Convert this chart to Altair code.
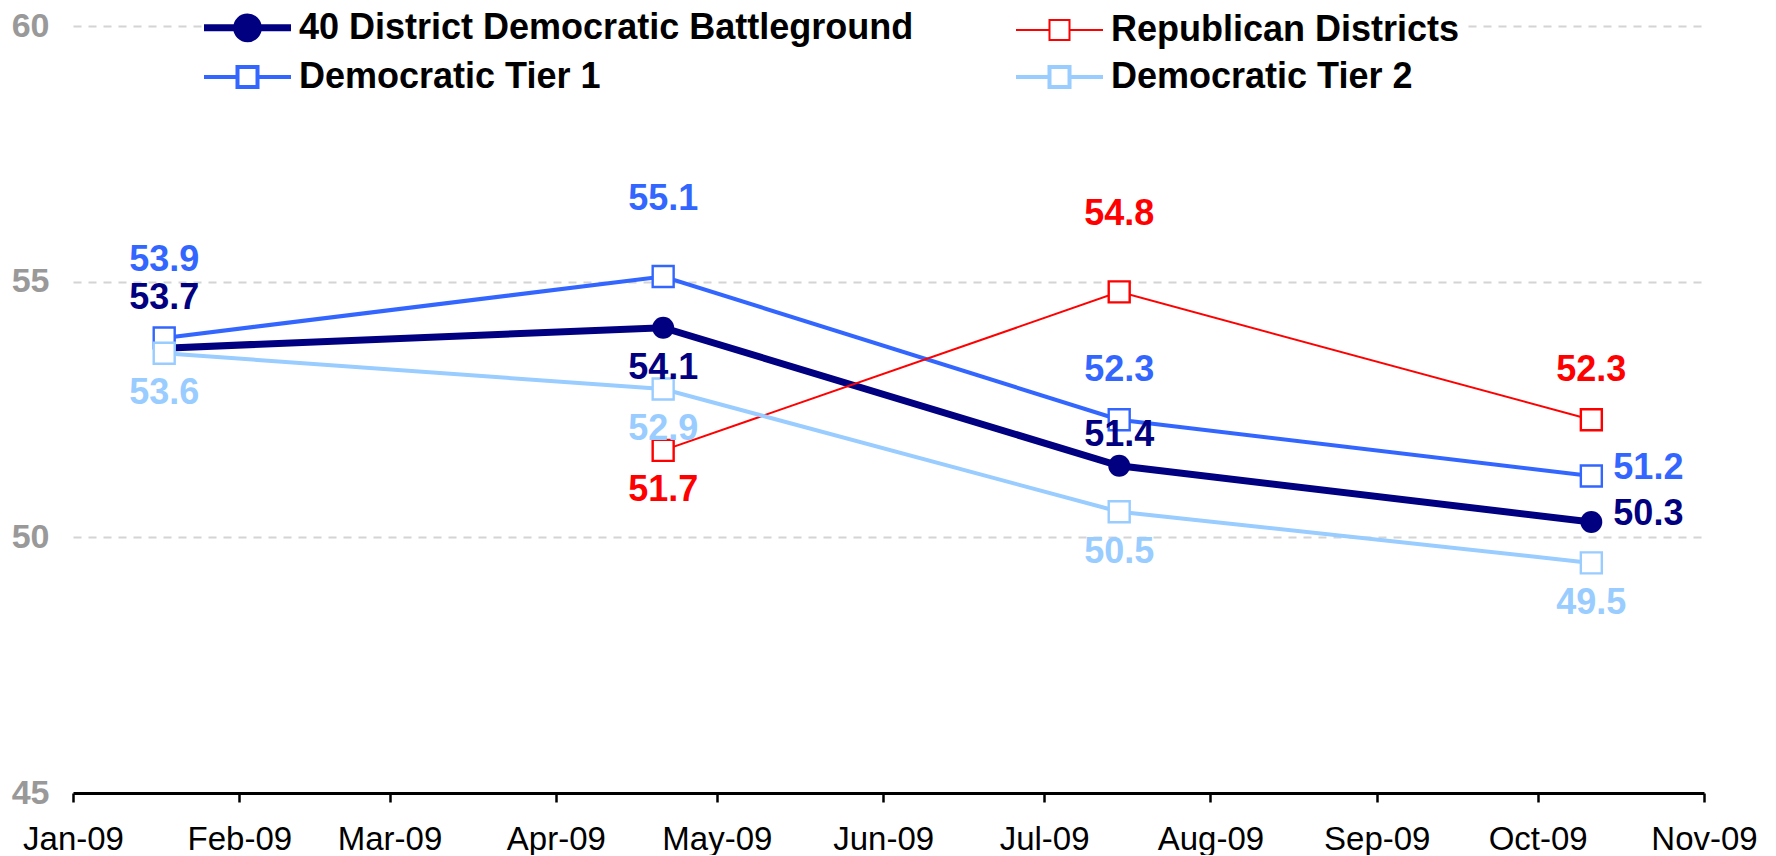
import altair as alt
import pandas as pd

# ---- data ----
dates = ["2009-01-18", "2009-04-21", "2009-07-15", "2009-10-11"]
series_names = [
    "40 District Democratic Battleground",
    "Democratic Tier 1",
    "Republican Districts",
    "Democratic Tier 2",
]
battleground = [53.7, 54.1, 51.4, 50.3]
tier1 = [53.9, 55.1, 52.3, 51.2]
republican = [None, 51.7, 54.8, 52.3]
tier2 = [53.6, 52.9, 50.5, 49.5]

# label placement for each point (relative to its marker)
battleground_pos = ["above", "below", "low", "right"]
tier1_pos = ["high", "high", "above", "right"]
republican_pos = [None, "below", "high", "above"]
tier2_pos = ["below", "below", "below", "below"]

colors = ["#000080", "#3366FF", "#FF0000", "#99CCFF"]
widths = [7, 4, 2, 4]
fills = ["#000080", "white", "white", "white"]

rows = []
for name, vals, poss in zip(
    series_names,
    [battleground, tier1, republican, tier2],
    [battleground_pos, tier1_pos, republican_pos, tier2_pos],
):
    for d, v, p in zip(dates, vals, poss):
        if v is not None:
            rows.append({"date": d, "series": name, "value": v, "pos": p})
df = pd.DataFrame(rows)

FONT = "Liberation Sans"

stroke_scale = alt.Scale(domain=series_names, range=colors)
fill_scale = alt.Scale(domain=series_names, range=fills)
width_scale = alt.Scale(type="ordinal", domain=series_names, range=widths)
# text colours (own scale, no legend)
text_scale = alt.Scale(domain=series_names[::-1], range=colors[::-1])

# legend symbols: line stub with marker, drawn wider than the nominal symbol box
circle_path = (
    "M-2,0H-0.5M0.5,0H2"
    "M-0.5,0A0.5,0.5 0 1,0 0.5,0A0.5,0.5 0 1,0 -0.5,0Z"
)
square_path = "M-2,0H-0.46M0.46,0H2M-0.46,-0.46H0.46V0.46H-0.46Z"
shape_scale = alt.Scale(domain=series_names, range=[circle_path, square_path, square_path, square_path])

legend_def = alt.Legend(
    title=None,
    orient="none",
    legendX=141,
    legendY=-32,
    columns=2,
    columnPadding=94,
    rowPadding=0,
    gridAlign="each",
    symbolSize=1892,
    symbolOpacity=1,
    labelFont=FONT,
    labelFontSize=36,
    labelFontWeight="bold",
    labelColor="#000000",
    labelLimit=1200,
    labelOffset=26,
    fillColor="white",
    padding=8,
)

x_enc = alt.X(
    "date:T",
    scale=alt.Scale(
        type="utc",
        domain=[
            alt.DateTime(year=2009, month=1, date=1, utc=True),
            alt.DateTime(year=2009, month=11, date=1, utc=True),
        ],
    ),
    axis=alt.Axis(
        title=None,
        values=[alt.DateTime(year=2009, month=m, date=1, utc=True) for m in range(1, 12)],
        format="%b-%y",
        grid=False,
        domainColor="#000000",
        domainWidth=3,
        tickColor="#000000",
        tickWidth=2.5,
        tickSize=9,
        labelFont=FONT,
        labelFontSize=33,
        labelColor="#000000",
        labelPadding=21,
        labelFlush=False,
    ),
)
y_enc = alt.Y(
    "value:Q",
    scale=alt.Scale(domain=[45, 60], nice=False, zero=False),
    axis=alt.Axis(
        title=None,
        values=[45, 50, 55, 60],
        domain=False,
        ticks=False,
        grid=True,
        gridColor="#d4d4d4",
        gridDash=[8, 7],
        gridWidth=2,
        labelFont=FONT,
        labelFontSize=34,
        labelFontWeight="bold",
        labelColor="#999999",
        labelPadding=24,
    ),
)

base = alt.Chart(df)

# legend carrier (invisible marks, visible legend)
legend_layer = base.mark_point(filled=True, opacity=0).encode(
    x=x_enc,
    y=y_enc,
    fill=alt.Fill("series:N", scale=fill_scale, legend=legend_def),
    stroke=alt.Stroke("series:N", scale=stroke_scale, legend=legend_def),
    shape=alt.Shape("series:N", scale=shape_scale, legend=legend_def),
    strokeWidth=alt.StrokeWidth("series:N", scale=width_scale, legend=legend_def),
)

lines = base.mark_line().encode(
    x="date:T",
    y="value:Q",
    stroke=alt.Stroke("series:N", scale=stroke_scale, legend=legend_def),
    strokeWidth=alt.StrokeWidth("series:N", scale=width_scale, legend=legend_def),
    order=alt.Order("date:T"),
)

circles = base.transform_filter(
    alt.datum.series == series_names[0]
).mark_circle(size=480, opacity=1).encode(
    x="date:T",
    y="value:Q",
    fill=alt.Fill("series:N", scale=fill_scale, legend=legend_def),
)

squares = base.transform_filter(
    alt.datum.series != series_names[0]
).mark_square(size=440, filled=True, fill="white", strokeWidth=2.4, opacity=1).encode(
    x="date:T",
    y="value:Q",
    stroke=alt.Stroke("series:N", scale=stroke_scale, legend=legend_def),
)

placements = {
    "high": dict(dy=-78, dx=0, align="center"),
    "above": dict(dy=-50, dx=0, align="center"),
    "low": dict(dy=-31, dx=0, align="center"),
    "below": dict(dy=40, dx=0, align="center"),
    "right": dict(dy=-8, dx=22, align="left"),
}
text_layers = []
for p, opts in placements.items():
    text_layers.append(
        base.transform_filter(alt.datum.pos == p)
        .mark_text(
            font=FONT,
            fontSize=36,
            fontWeight="bold",
            baseline="middle",
            **opts,
        )
        .encode(
            x="date:T",
            y="value:Q",
            text=alt.Text("value:Q", format=".1f"),
            color=alt.Color("series:N", scale=text_scale, legend=None),
        )
    )

chart = (
    alt.layer(legend_layer, lines, circles, squares, *text_layers)
    .properties(
        width=1631,
        height=767,
        autosize=alt.AutoSizeParams(type="none"),
        padding={"left": 65, "top": 18, "right": 60, "bottom": 62},
    )
    .configure(font=FONT)
    .configure_view(stroke=None, strokeWidth=0)
)

chart.save("out.html", embed_options={"renderer": "svg", "actions": False})
